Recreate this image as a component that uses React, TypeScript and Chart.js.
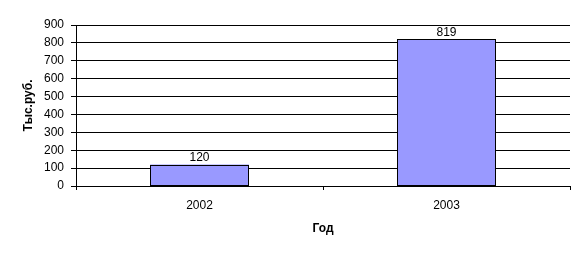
import React, { useEffect, useRef } from "react";
import { Chart, registerables } from "chart.js";

Chart.register(...registerables);

const categories = ["2002", "2003"];
const values = [120, 819];
const yTitle = "Тыс.руб.";
const xTitle = "Год";

const FONT = "'Liberation Sans', Arial, sans-serif";

const labelPlugin = {
  id: "barLabels",
  afterDatasetsDraw(chart: any) {
    const ctx = chart.ctx;
    const meta = chart.getDatasetMeta(0);
    ctx.save();
    // crisp bar outlines
    ctx.strokeStyle = "#000";
    ctx.lineWidth = 1;
    meta.data.forEach((el: any) => {
      const p = el.getProps(["x", "y", "base", "width"], true);
      const l = Math.round(p.x - p.width / 2) + 0.5;
      const r = Math.round(p.x + p.width / 2) - 0.5;
      const t = Math.round(p.y) + 0.5;
      const b = Math.round(p.base) - 0.5;
      ctx.strokeRect(l, t, r - l, b - t);
    });
    ctx.font = `12px ${FONT}`;
    ctx.fillStyle = "#000";
    ctx.textAlign = "center";
    ctx.textBaseline = "bottom";
    meta.data.forEach((el: any, i: number) => {
      ctx.fillText(String(values[i]), el.x, el.y - 1);
    });
    ctx.restore();
  },
};

export default function App() {
  const ref = useRef<HTMLCanvasElement>(null);
  useEffect(() => {
    if (!ref.current) return;
    const chart = new Chart(ref.current, {
      type: "bar",
      data: {
        labels: categories,
        datasets: [
          {
            data: values,
            backgroundColor: "#9999FF",
            borderWidth: 0,
            barPercentage: 0.4,
            categoryPercentage: 1,
          },
        ],
      },
      options: {
        responsive: false,
        animation: false,
        layout: { padding: { left: 0, right: 8, top: 17, bottom: 0 } },
        plugins: { legend: { display: false }, tooltip: { enabled: false } },
        scales: {
          x: {
            offset: true,
            grid: {
              display: true,
              drawOnChartArea: false,
              offset: true,
              tickLength: 4,
              color: "#000",
            },
            border: { display: true, color: "#000" },
            ticks: { color: "#000", font: { family: FONT, size: 12 }, padding: 8 },
            title: {
              display: true,
              text: xTitle,
              color: "#000",
              font: { family: FONT, size: 12, weight: "bold" },
              padding: { top: 10, bottom: 10 },
            },
            afterFit(s: any) {
              s.height = 60;
            },
          },
          y: {
            min: 0,
            max: 900,
            ticks: { stepSize: 100, color: "#000", font: { family: FONT, size: 12 }, padding: 7 },
            grid: { color: "#000", tickLength: 5 },
            border: { display: true, color: "#000" },
            title: {
              display: true,
              text: yTitle,
              color: "#000",
              font: { family: FONT, size: 12, weight: "bold" },
              padding: { top: 13, bottom: 0 },
            },
            afterFit(s: any) {
              s.width = 68;
            },
          },
        },
      },
      plugins: [labelPlugin],
    });
    return () => chart.destroy();
  }, []);
  return <canvas ref={ref} width={570} height={238} style={{ display: "block" }} />;
}
